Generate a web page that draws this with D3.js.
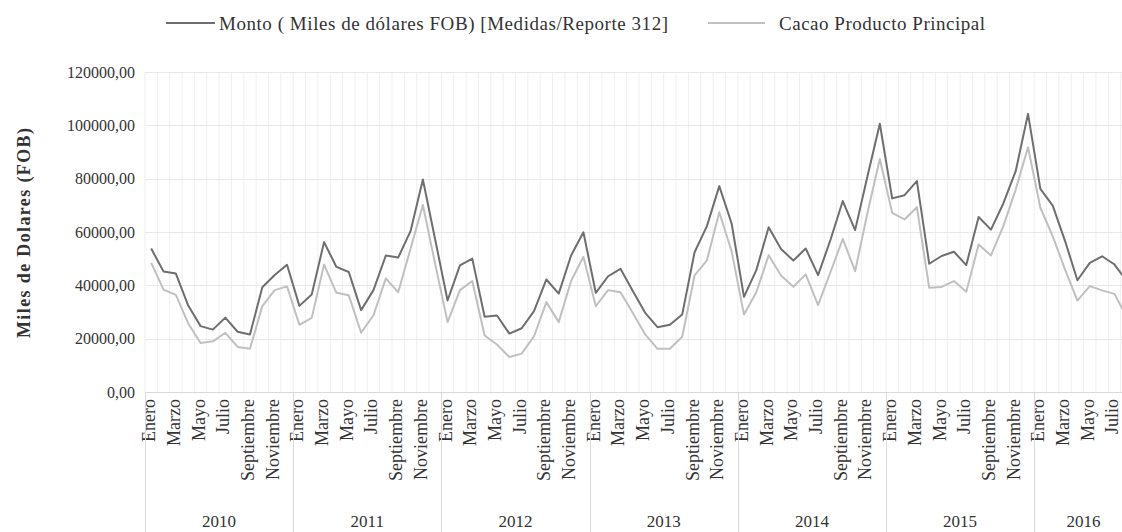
<!DOCTYPE html>
<html>
<head>
<meta charset="utf-8">
<script src="https://cdn.jsdelivr.net/npm/d3@7"></script>
<style>
body { margin: 0; background: #fff; }
svg text { font-family: "Liberation Serif", "Times New Roman", Times, serif; }
</style>
</head>
<body>
<script>
// Chart values
const years = ["2010", "2011", "2012", "2013", "2014", "2015", "2016"];
const monthNames = ["Enero", "Febrero", "Marzo", "Abril", "Mayo", "Junio", "Julio",
    "Agosto", "Septiembre", "Octubre", "Noviembre", "Diciembre"];

const monto = [
    53800, 45200, 44400, 32400, 24700, 23400, 27900, 22600, 21600, 39300, 43900, 47700,
    32300, 36600, 56200, 46900, 45000, 30700, 38200, 51200, 50400, 60300, 79700, 57100,
    34300, 47500, 50000, 28200, 28700, 21900, 23900, 30300, 42200, 36900, 51200, 59900,
    37200, 43400, 46200, 37900, 29700, 24300, 25200, 29100, 52400, 62200, 77200, 63200,
    35700, 45700, 61800, 53600, 49300, 53800, 43800, 57000, 71600, 60700, 80900, 100600,
    72600, 73800, 79100, 48100, 51000, 52600, 47600, 65600, 60900, 70700, 82800, 104300,
    76200, 69900, 56600, 41900, 48400, 50900, 47800, 41600
];

const cacao = [
    48400, 38400, 36400, 25700, 18400, 19000, 22200, 16900, 16200, 32200, 38200, 39600,
    25200, 27800, 47800, 37200, 36300, 22200, 28800, 42600, 37400, 53700, 70100, 47900,
    26200, 38200, 41600, 21200, 17800, 13100, 14400, 20900, 33700, 26200, 41600, 50700,
    32200, 38200, 37400, 29600, 21600, 16200, 16200, 20700, 43700, 49400, 67400, 52800,
    29100, 37400, 51300, 43700, 39500, 44100, 32600, 44900, 57400, 45300, 67200, 87400,
    67200, 64700, 69300, 39100, 39400, 41600, 37600, 55300, 51200, 62200, 75900, 91800,
    69100, 58400, 45900, 34300, 39700, 38100, 36800, 28100
];

const yTicks = [0, 20000, 40000, 60000, 80000, 100000, 120000];
const seriesNames = ["Monto ( Miles de dólares FOB) [Medidas/Reporte 312]", "Cacao Producto Principal"];
const seriesColors = ["#6e6e6e", "#c0c0c0"];

const width = 1122, height = 532;
const plotLeft = 145, plotTop = 72, plotBottom = 392;
const bandW = 12.35;

// month categories, one per data point
const cats = [];
years.forEach(yr => monthNames.forEach((m, i) => cats.push({ year: yr, month: m, mi: i })));
const data = cats.slice(0, monto.length).map((c, i) => ({ ...c, i, monto: monto[i], cacao: cacao[i] }));

const svg = d3.select("body")
    .append("svg")
    .attr("width", width)
    .attr("height", height)
    .attr("viewBox", [0, 0, width, height]);

const x = d3.scaleBand()
    .domain(data.map(d => d.i))
    .range([plotLeft, plotLeft + bandW * data.length]);

const y = d3.scaleLinear()
    .domain([0, 120000])
    .range([plotBottom, plotTop]);

const locale = d3.formatLocale({ decimal: ",", thousands: ".", grouping: [3], currency: ["", ""] });
const fmt = locale.format(".2f");

// vertical gridlines (category boundaries)
svg.append("g")
    .selectAll("line")
    .data(d3.range(data.length + 1))
    .enter().append("line")
    .attr("x1", i => plotLeft + i * x.bandwidth())
    .attr("x2", i => plotLeft + i * x.bandwidth())
    .attr("y1", plotTop)
    .attr("y2", plotBottom)
    .attr("stroke", "#efefef")
    .attr("stroke-width", 1);

// horizontal gridlines
svg.append("g")
    .selectAll("line")
    .data(yTicks)
    .enter().append("line")
    .attr("x1", plotLeft)
    .attr("x2", x.range()[1])
    .attr("y1", d => Math.round(y(d)) + 0.5)
    .attr("y2", d => Math.round(y(d)) + 0.5)
    .attr("stroke", d => d === 0 ? "#d9d9d9" : "#e8e8e8")
    .attr("stroke-width", 1);

// y axis labels
const yAxis = svg.append("g")
    .attr("transform", `translate(${plotLeft},0)`)
    .call(d3.axisLeft(y).tickValues(yTicks).tickFormat(fmt).tickSize(0).tickPadding(10));
yAxis.attr("font-family", null);
yAxis.select(".domain").remove();
yAxis.selectAll("text")
    .attr("font-size", 16)
    .attr("fill", "#333");

// y axis title
svg.append("text")
    .attr("transform", `translate(30,${(plotTop + plotBottom) / 2 + 1}) rotate(-90)`)
    .attr("text-anchor", "middle")
    .attr("font-size", 18)
    .attr("font-weight", "bold")
    .attr("fill", "#333")
    .attr("textLength", 210)
    .text("Miles de Dolares (FOB)");

// x axis: month labels (every second month)
const xAxis = svg.append("g")
    .attr("transform", `translate(0,${plotBottom})`)
    .call(d3.axisBottom(x).tickSize(0).tickFormat(i => data[i].mi % 2 === 0 ? data[i].month : ""));
xAxis.attr("font-family", null);
xAxis.select(".domain").remove();
xAxis.selectAll("text")
    .attr("font-size", 18)
    .attr("fill", "#333")
    .attr("transform", "rotate(-90)")
    .attr("text-anchor", "end")
    .attr("x", -7)
    .attr("y", 0)
    .attr("dy", "0.22em");

// year groups: separators and labels
const yearGroups = d3.groups(data, d => d.year).map(([yr, ds]) => ({
    year: yr,
    x0: x(ds[0].i),
    x1: x(ds[ds.length - 1].i) + x.bandwidth()
}));

svg.append("g")
    .selectAll("line")
    .data(yearGroups)
    .enter().append("line")
    .attr("x1", d => Math.round(d.x0) + 0.5)
    .attr("x2", d => Math.round(d.x0) + 0.5)
    .attr("y1", plotBottom)
    .attr("y2", height)
    .attr("stroke", "#d9d9d9");

svg.append("g")
    .selectAll("text")
    .data(yearGroups)
    .enter().append("text")
    .attr("x", d => (d.x0 + d.x1) / 2)
    .attr("y", 527)
    .attr("text-anchor", "middle")
    .attr("font-size", 17)
    .attr("fill", "#333")
    .text(d => d.year);

// lines
const cx = d => x(d.i) + x.bandwidth() / 2;
const lineMonto = d3.line().x(cx).y(d => y(d.monto));
const lineCacao = d3.line().x(cx).y(d => y(d.cacao));

svg.append("path")
    .datum(data)
    .attr("fill", "none")
    .attr("stroke", seriesColors[1])
    .attr("stroke-width", 2)
    .attr("stroke-linejoin", "round")
    .attr("d", lineCacao);

svg.append("path")
    .datum(data)
    .attr("fill", "none")
    .attr("stroke", seriesColors[0])
    .attr("stroke-width", 2)
    .attr("stroke-linejoin", "round")
    .attr("d", lineMonto);

// legend
const legendPos = [{ x: 166, w: 49, tx: 219, len: 449 }, { x: 708, w: 57, tx: 779, len: 206 }];
const legend = svg.append("g")
    .selectAll("g")
    .data(seriesNames)
    .enter().append("g");

legend.append("line")
    .attr("x1", (d, i) => legendPos[i].x)
    .attr("x2", (d, i) => legendPos[i].x + legendPos[i].w)
    .attr("y1", 23)
    .attr("y2", 23)
    .attr("stroke", (d, i) => seriesColors[i])
    .attr("stroke-width", 2);

legend.append("text")
    .attr("x", (d, i) => legendPos[i].tx)
    .attr("y", 23)
    .attr("dy", "0.35em")
    .attr("font-size", 19)
    .attr("textLength", (d, i) => legendPos[i].len)
    .attr("fill", "#333")
    .text(d => d);
</script>
</body>
</html>
